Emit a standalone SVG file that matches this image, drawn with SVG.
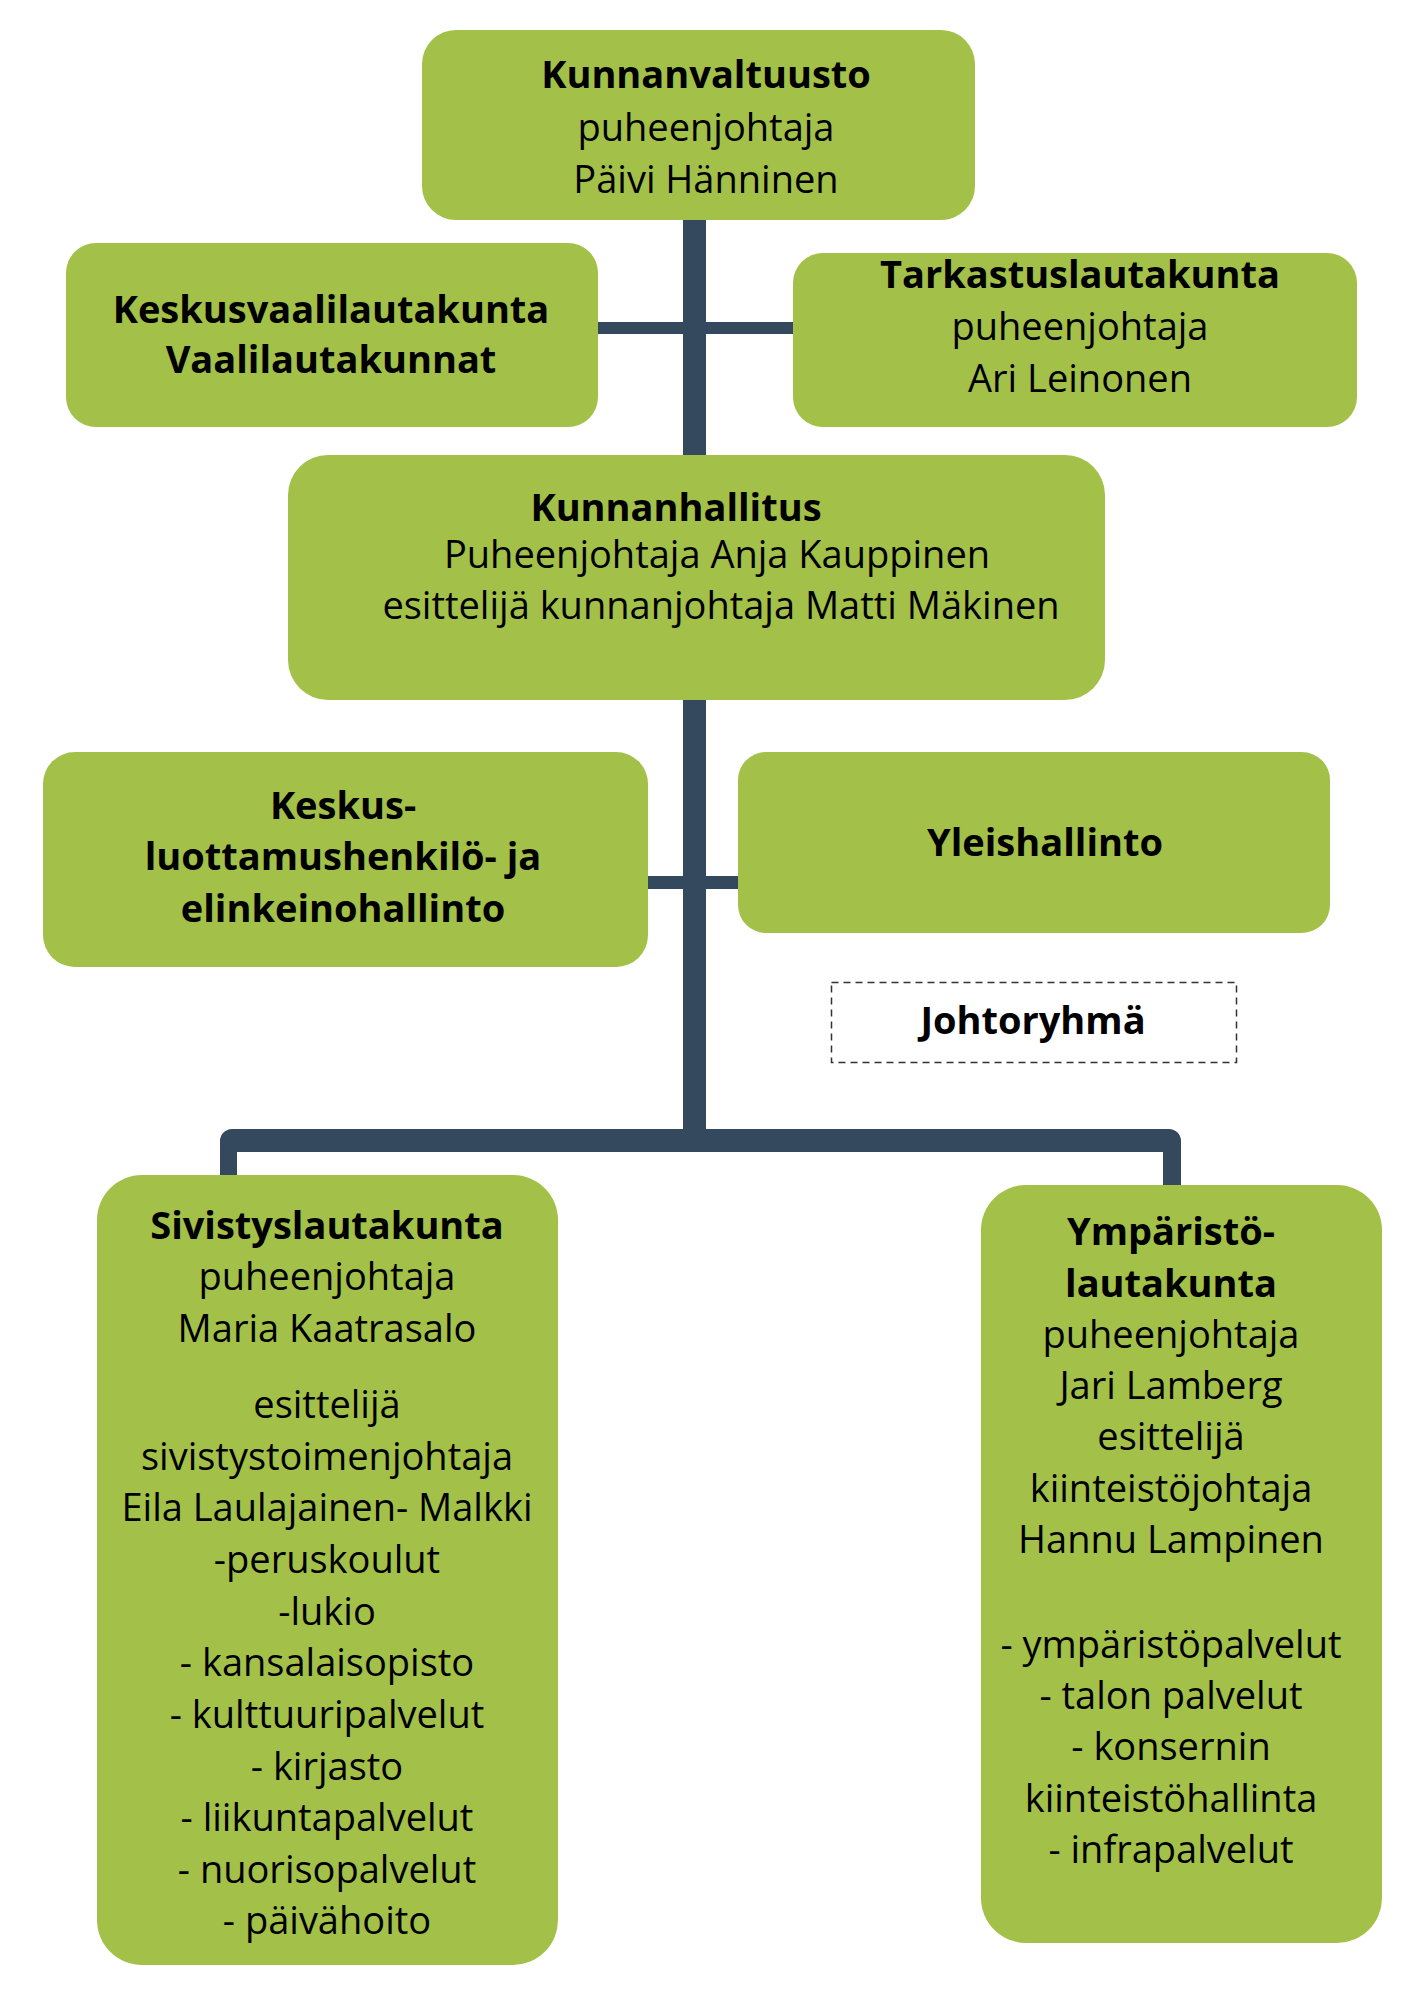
<svg xmlns="http://www.w3.org/2000/svg" width="1414" height="2000" viewBox="0 0 1414 2000">
<style>
.box{fill:#a3c048;}
.t{font-family:"Open Sans","Noto Sans",sans-serif;font-size:38px;fill:#000;text-anchor:middle;}
.b{font-weight:bold;}
.con{fill:#34495e;}
</style>
<rect width="1414" height="2000" fill="#fff"/>
<g id="connectors">
<rect class="con" x="683" y="210" width="23" height="942"/>
<rect class="con" x="590" y="322" width="210" height="12"/>
<rect class="con" x="640" y="876" width="105" height="13"/>
<path class="con" d="M232,1129 H1169 A12,12 0 0 1 1181,1141 V1190 H1163 V1152 H237 V1180 H220 V1141 A12,12 0 0 1 232,1129 Z"/>
</g>
<g id="kunnanvaltuusto">
<rect class="box" x="422" y="30" width="553" height="190" rx="34"/>
<text class="t b" x="706" y="88">Kunnanvaltuusto</text>
<text class="t" x="706" y="141">puheenjohtaja</text>
<text class="t" x="706" y="193">Päivi Hänninen</text>
</g>
<g id="keskusvaalilautakunta">
<rect class="box" x="66" y="243" width="532" height="184" rx="30"/>
<text class="t b" x="331" y="323">Keskusvaalilautakunta</text>
<text class="t b" x="331" y="373">Vaalilautakunnat</text>
</g>
<g id="tarkastuslautakunta">
<rect class="box" x="793" y="253" width="564" height="174" rx="30"/>
<text class="t b" x="1080" y="288">Tarkastuslautakunta</text>
<text class="t" x="1080" y="340">puheenjohtaja</text>
<text class="t" x="1080" y="392">Ari Leinonen</text>
</g>
<g id="kunnanhallitus">
<rect class="box" x="288" y="455" width="817" height="245" rx="40"/>
<text class="t b" x="676" y="521">Kunnanhallitus</text>
<text class="t" x="717" y="568">Puheenjohtaja Anja Kauppinen</text>
<text class="t" x="721" y="619">esittelijä kunnanjohtaja Matti Mäkinen</text>
</g>
<g id="keskushallinto">
<rect class="box" x="43" y="752" width="605" height="215" rx="32"/>
<text class="t b" x="343" y="819">Keskus-</text>
<text class="t b" x="343" y="870">luottamushenkilö- ja</text>
<text class="t b" x="343" y="922">elinkeinohallinto</text>
</g>
<g id="yleishallinto">
<rect class="box" x="738" y="752" width="592" height="181" rx="28"/>
<text class="t b" x="1045" y="856">Yleishallinto</text>
</g>
<g id="johtoryhma">
<rect x="831.5" y="982.5" width="405" height="80" fill="none" stroke="#333" stroke-width="1.5" stroke-dasharray="7,5"/>
<text class="t b" x="1033" y="1034">Johtoryhmä</text>
</g>
<g id="sivistyslautakunta">
<rect class="box" x="97" y="1175" width="461" height="790" rx="45"/>
<text class="t b" x="327" y="1239">Sivistyslautakunta</text>
<text class="t" x="327" y="1290">puheenjohtaja</text>
<text class="t" x="327" y="1342">Maria Kaatrasalo</text>
<text class="t" x="327" y="1418">esittelijä</text>
<text class="t" x="327" y="1470">sivistystoimenjohtaja</text>
<text class="t" x="327" y="1521">Eila Laulajainen- Malkki</text>
<text class="t" x="327" y="1573">-peruskoulut</text>
<text class="t" x="327" y="1625">-lukio</text>
<text class="t" x="327" y="1676">- kansalaisopisto</text>
<text class="t" x="327" y="1728">- kulttuuripalvelut</text>
<text class="t" x="327" y="1780">- kirjasto</text>
<text class="t" x="327" y="1831">- liikuntapalvelut</text>
<text class="t" x="327" y="1883">- nuorisopalvelut</text>
<text class="t" x="327" y="1934">- päivähoito</text>
</g>
<g id="ymparistolautakunta">
<rect class="box" x="981" y="1185" width="401" height="758" rx="45"/>
<text class="t b" x="1171" y="1245">Ympäristö-</text>
<text class="t b" x="1171" y="1297">lautakunta</text>
<text class="t" x="1171" y="1348">puheenjohtaja</text>
<text class="t" x="1171" y="1399">Jari Lamberg</text>
<text class="t" x="1171" y="1450">esittelijä</text>
<text class="t" x="1171" y="1502">kiinteistöjohtaja</text>
<text class="t" x="1171" y="1553">Hannu Lampinen</text>
<text class="t" x="1171" y="1658">- ympäristöpalvelut</text>
<text class="t" x="1171" y="1709">- talon palvelut</text>
<text class="t" x="1171" y="1760">- konsernin</text>
<text class="t" x="1171" y="1812">kiinteistöhallinta</text>
<text class="t" x="1171" y="1863">- infrapalvelut</text>
</g>
</svg>
